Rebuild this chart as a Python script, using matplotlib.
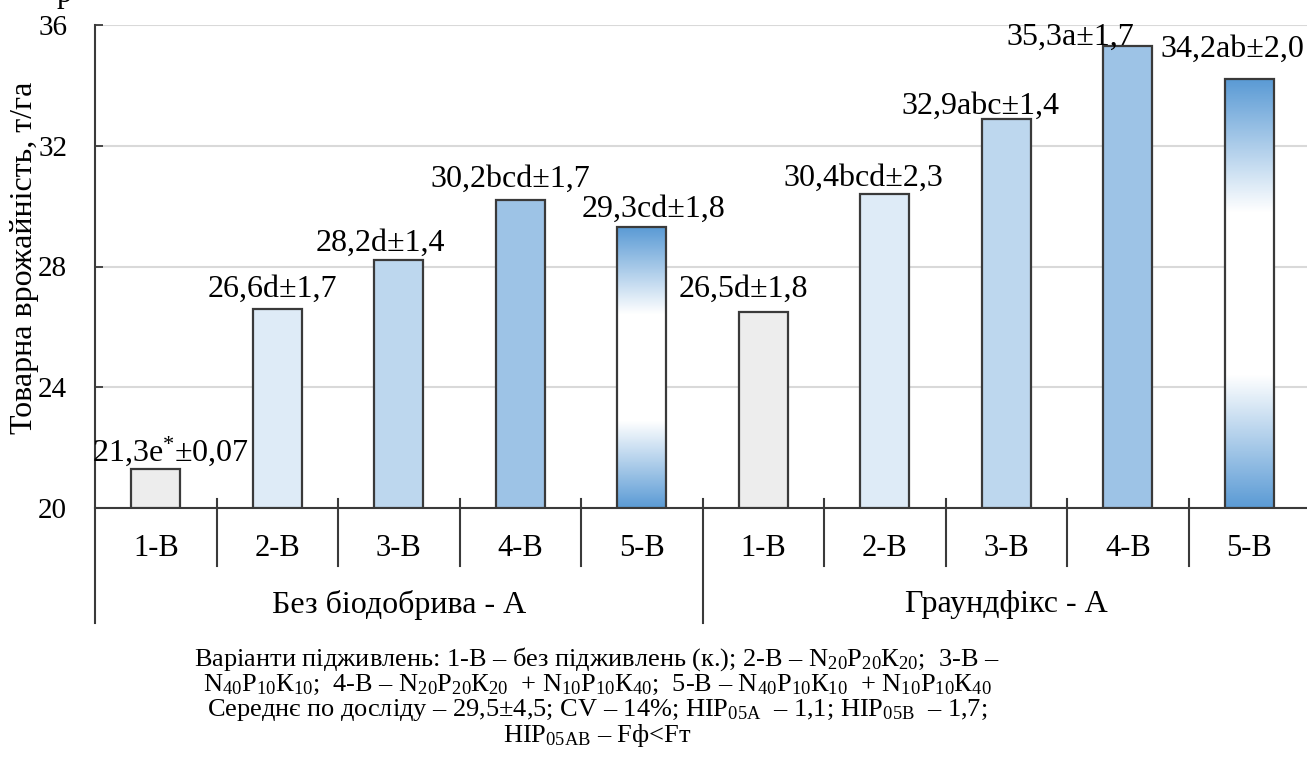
import numpy as np
import matplotlib.pyplot as plt
from matplotlib.colors import LinearSegmentedColormap

plt.rcParams['font.family'] = ['Liberation Serif', 'DejaVu Serif']
plt.rcParams['mathtext.fontset'] = 'custom'
plt.rcParams['mathtext.rm'] = 'Liberation Serif'
plt.rcParams['mathtext.it'] = 'Liberation Serif:italic'

# data
categories = ['1-В', '2-В', '3-В', '4-В', '5-В'] * 2
groups = ['Без біодобрива - А', 'Граундфікс - А']
values = [21.3, 26.6, 28.2, 30.2, 29.3, 26.5, 30.4, 32.9, 35.3, 34.2]
labels = ['21,3e$^{*}$±0,07', '26,6d±1,7', '28,2d±1,4', '30,2bcd±1,7', '29,3cd±1,8',
          '26,5d±1,8', '30,4bcd±2,3', '32,9abc±1,4', '35,3a±1,7', '34,2ab±2,0']

# label nudges (category units / y units)
label_dx = [0.12, -0.04, -0.15, -0.08, 0.10, -0.16, -0.18, -0.21, -0.47, -0.14]
label_dy = [0.26, 0.40, 0.33, 0.43, 0.33, 0.50, 0.26, 0.17, 0.03, 0.73]

colors = ['#ededed', '#deebf7', '#bdd7ee', '#9dc3e6', None] * 2
edge = '#3a3a3a'

fig = plt.figure(figsize=(13.07, 7.82), dpi=100)
ax = fig.add_axes([95 / 1307, 1 - 508 / 782, 1215 / 1307, 483 / 782])

x = np.arange(len(values))
width = 0.4

grad_cmap = LinearSegmentedColormap.from_list('g', ['#5b9bd5', '#ffffff'])
t = np.linspace(0, 1, 256)
profile = np.clip(np.minimum(t, 1 - t) / 0.31, 0, 1)
grad = profile.reshape(-1, 1)

for i, v in enumerate(values):
    if colors[i] is None:
        b = ax.bar(x[i], v - 20, width, bottom=20, facecolor='none',
                   edgecolor=edge, linewidth=1.6, zorder=4)[0]
        im = ax.imshow(grad, extent=[x[i] - width / 2, x[i] + width / 2, 20, v],
                       origin='lower', aspect='auto', cmap=grad_cmap,
                       vmin=0, vmax=1, zorder=3)
        im.set_clip_path(b)
    else:
        ax.bar(x[i], v - 20, width, bottom=20, color=colors[i],
               edgecolor=edge, linewidth=1.6, zorder=3)
    ax.text(x[i] + label_dx[i], v + label_dy[i], labels[i], ha='center',
            va='baseline', fontsize=23, zorder=5)

ax.set_xlim(-0.5, 9.5)
ax.set_ylim(20, 36)
ax.set_yticks([20, 24, 28, 32, 36])
ax.set_yticklabels(['20', '24', '28', '32', '36'], fontsize=21)
ax.tick_params(axis='y', direction='in', length=6, width=1.3, color=edge, pad=20)
ax.set_xticks([])
ax.yaxis.grid(True, color='#d9d9d9', linewidth=1.5)
ax.set_axisbelow(True)
for s in ['top', 'right']:
    ax.spines[s].set_visible(False)
ax.spines['bottom'].set_color(edge)
ax.spines['bottom'].set_linewidth(1.5)
ax.spines['left'].set_visible(False)

# category / group separators
tr = ax.get_xaxis_transform()
ax.plot([-0.5, -0.5], [1.0, -0.238], color=edge, lw=1.5, transform=tr, clip_on=False)
for k in range(1, 10):
    y0 = -0.238 if k == 5 else -0.120
    ax.plot([k - 0.5, k - 0.5], [0.0186, y0], color=edge, lw=1.5,
            transform=tr, clip_on=False)
for i, c in enumerate(categories):
    ax.text(x[i], -0.083, c, ha='center', va='center', fontsize=22,
            transform=tr)
for g, name in enumerate(groups):
    ax.text(2 + 5 * g, -0.2, name, ha='center', va='center', fontsize=23,
            transform=tr)

fig.text(25 / 1307, 1 - 258 / 782, 'Товарна врожайність, т/га', rotation=90,
         ha='center', va='center', fontsize=23)
fig.text(57 / 1307, 1 - 2 / 782, 'р', ha='left', va='baseline', fontsize=22)

notes = [
    'Варіанти підживлень: 1-В – без підживлень (к.); 2-В – N$_{\\mathrm{20}}$P$_{\\mathrm{20}}$К$_{\\mathrm{20}}$;  3-В –',
    'N$_{\\mathrm{40}}$P$_{\\mathrm{10}}$К$_{\\mathrm{10}}$;  4-В – N$_{\\mathrm{20}}$P$_{\\mathrm{20}}$К$_{\\mathrm{20}}$  + '
    'N$_{\\mathrm{10}}$P$_{\\mathrm{10}}$К$_{\\mathrm{40}}$;  5-В – N$_{\\mathrm{40}}$P$_{\\mathrm{10}}$К$_{\\mathrm{10}}$  + '
    'N$_{\\mathrm{10}}$P$_{\\mathrm{10}}$К$_{\\mathrm{40}}$',
    'Середнє по досліду – 29,5±4,5; CV – 14%; НІР$_{\\mathrm{05A}}$  – 1,1; НІР$_{\\mathrm{05B}}$  – 1,7;',
    'НІР$_{\\mathrm{05AB}}$ – Fф<Fт',
]
for j, line in enumerate(notes):
    fig.text(597 / 1307, 1 - (659 + 25.5 * j) / 782, line, ha='center',
             va='center', fontsize=19)

fig.savefig('out.png', dpi=100)
